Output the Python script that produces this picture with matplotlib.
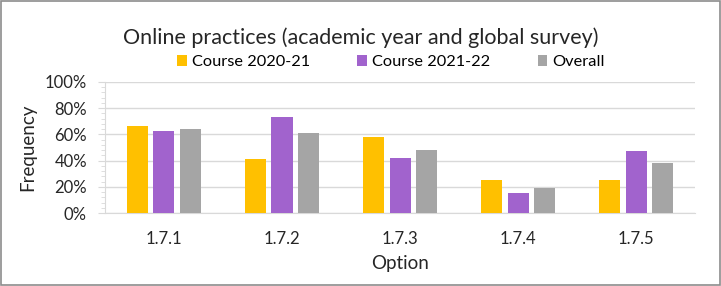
import matplotlib
matplotlib.use("Agg")
import matplotlib.pyplot as plt
import numpy as np
from matplotlib.ticker import MultipleLocator, PercentFormatter
from matplotlib.patches import Rectangle

categories = ["1.7.1", "1.7.2", "1.7.3", "1.7.4", "1.7.5"]
series_names = ["Course 2020-21", "Course 2021-22", "Overall"]
course_2020_21 = [66.5, 41.5, 58.0, 25.0, 25.0]
course_2021_22 = [62.8, 73.5, 42.0, 15.5, 47.0]
overall = [64.4, 61.0, 48.0, 19.3, 38.4]
colors = ["#FFC000", "#A163CD", "#A5A5A5"]

plt.rcParams['font.family'] = ['Lato', 'DejaVu Sans']

fig = plt.figure(figsize=(7.21, 2.86), dpi=100)
ax = fig.add_axes([0.1456, 0.2552, 0.964 - 0.1456, 0.7133 - 0.2552])

x = np.arange(len(categories))
w = 0.178
step = 0.222
for i, (vals, name, c) in enumerate(zip([course_2020_21, course_2021_22, overall], series_names, colors)):
    ax.bar(x + (i - 1) * step, vals, width=w, color=c, label=name, zorder=3)

ax.set_xlim(-0.5, len(categories) - 0.5)
ax.set_ylim(0, 100)
ax.yaxis.set_major_locator(MultipleLocator(20))
ax.yaxis.set_minor_locator(MultipleLocator(4))
ax.yaxis.set_major_formatter(PercentFormatter(decimals=0))
ax.set_xticks(x)
ax.set_xticklabels(categories)
ax.grid(axis='y', color='#D9D9D9', linewidth=1.0, zorder=0)
for s in ['top', 'right']:
    ax.spines[s].set_visible(False)
ax.spines['left'].set_color('#D9D9D9')
ax.spines['bottom'].set_color('#D9D9D9')
ax.tick_params(axis='y', which='major', length=5, color='#D9D9D9', labelsize=12, labelcolor='#262626', pad=8)
ax.tick_params(axis='y', which='minor', length=3, color='#D9D9D9')
ax.tick_params(axis='x', length=0, labelsize=12, labelcolor='#262626', pad=13)

ax.set_ylabel("Frequency", fontsize=13.5, color='#262626', labelpad=6)
ax.set_xlabel("Option", fontsize=13.5, color='#262626', labelpad=6)

fig.text(0.5, 0.868, "Online practices (academic year and global survey)", ha='center', va='center',
         fontsize=15.5, color='#262626')

handles, labels = ax.get_legend_handles_labels()
fig.legend(handles, labels, loc='center', bbox_to_anchor=(0.542, 0.782), ncol=3, frameon=False,
           fontsize=11.8, handlelength=0.6, handleheight=0.6, handletextpad=0.3, columnspacing=2.9)

fig.add_artist(Rectangle((0.001, 0.002), 0.997, 0.995, transform=fig.transFigure, fill=False,
                         edgecolor='#8C8C8C', linewidth=1.2))

fig.savefig("out.png", dpi=100, facecolor='white')
